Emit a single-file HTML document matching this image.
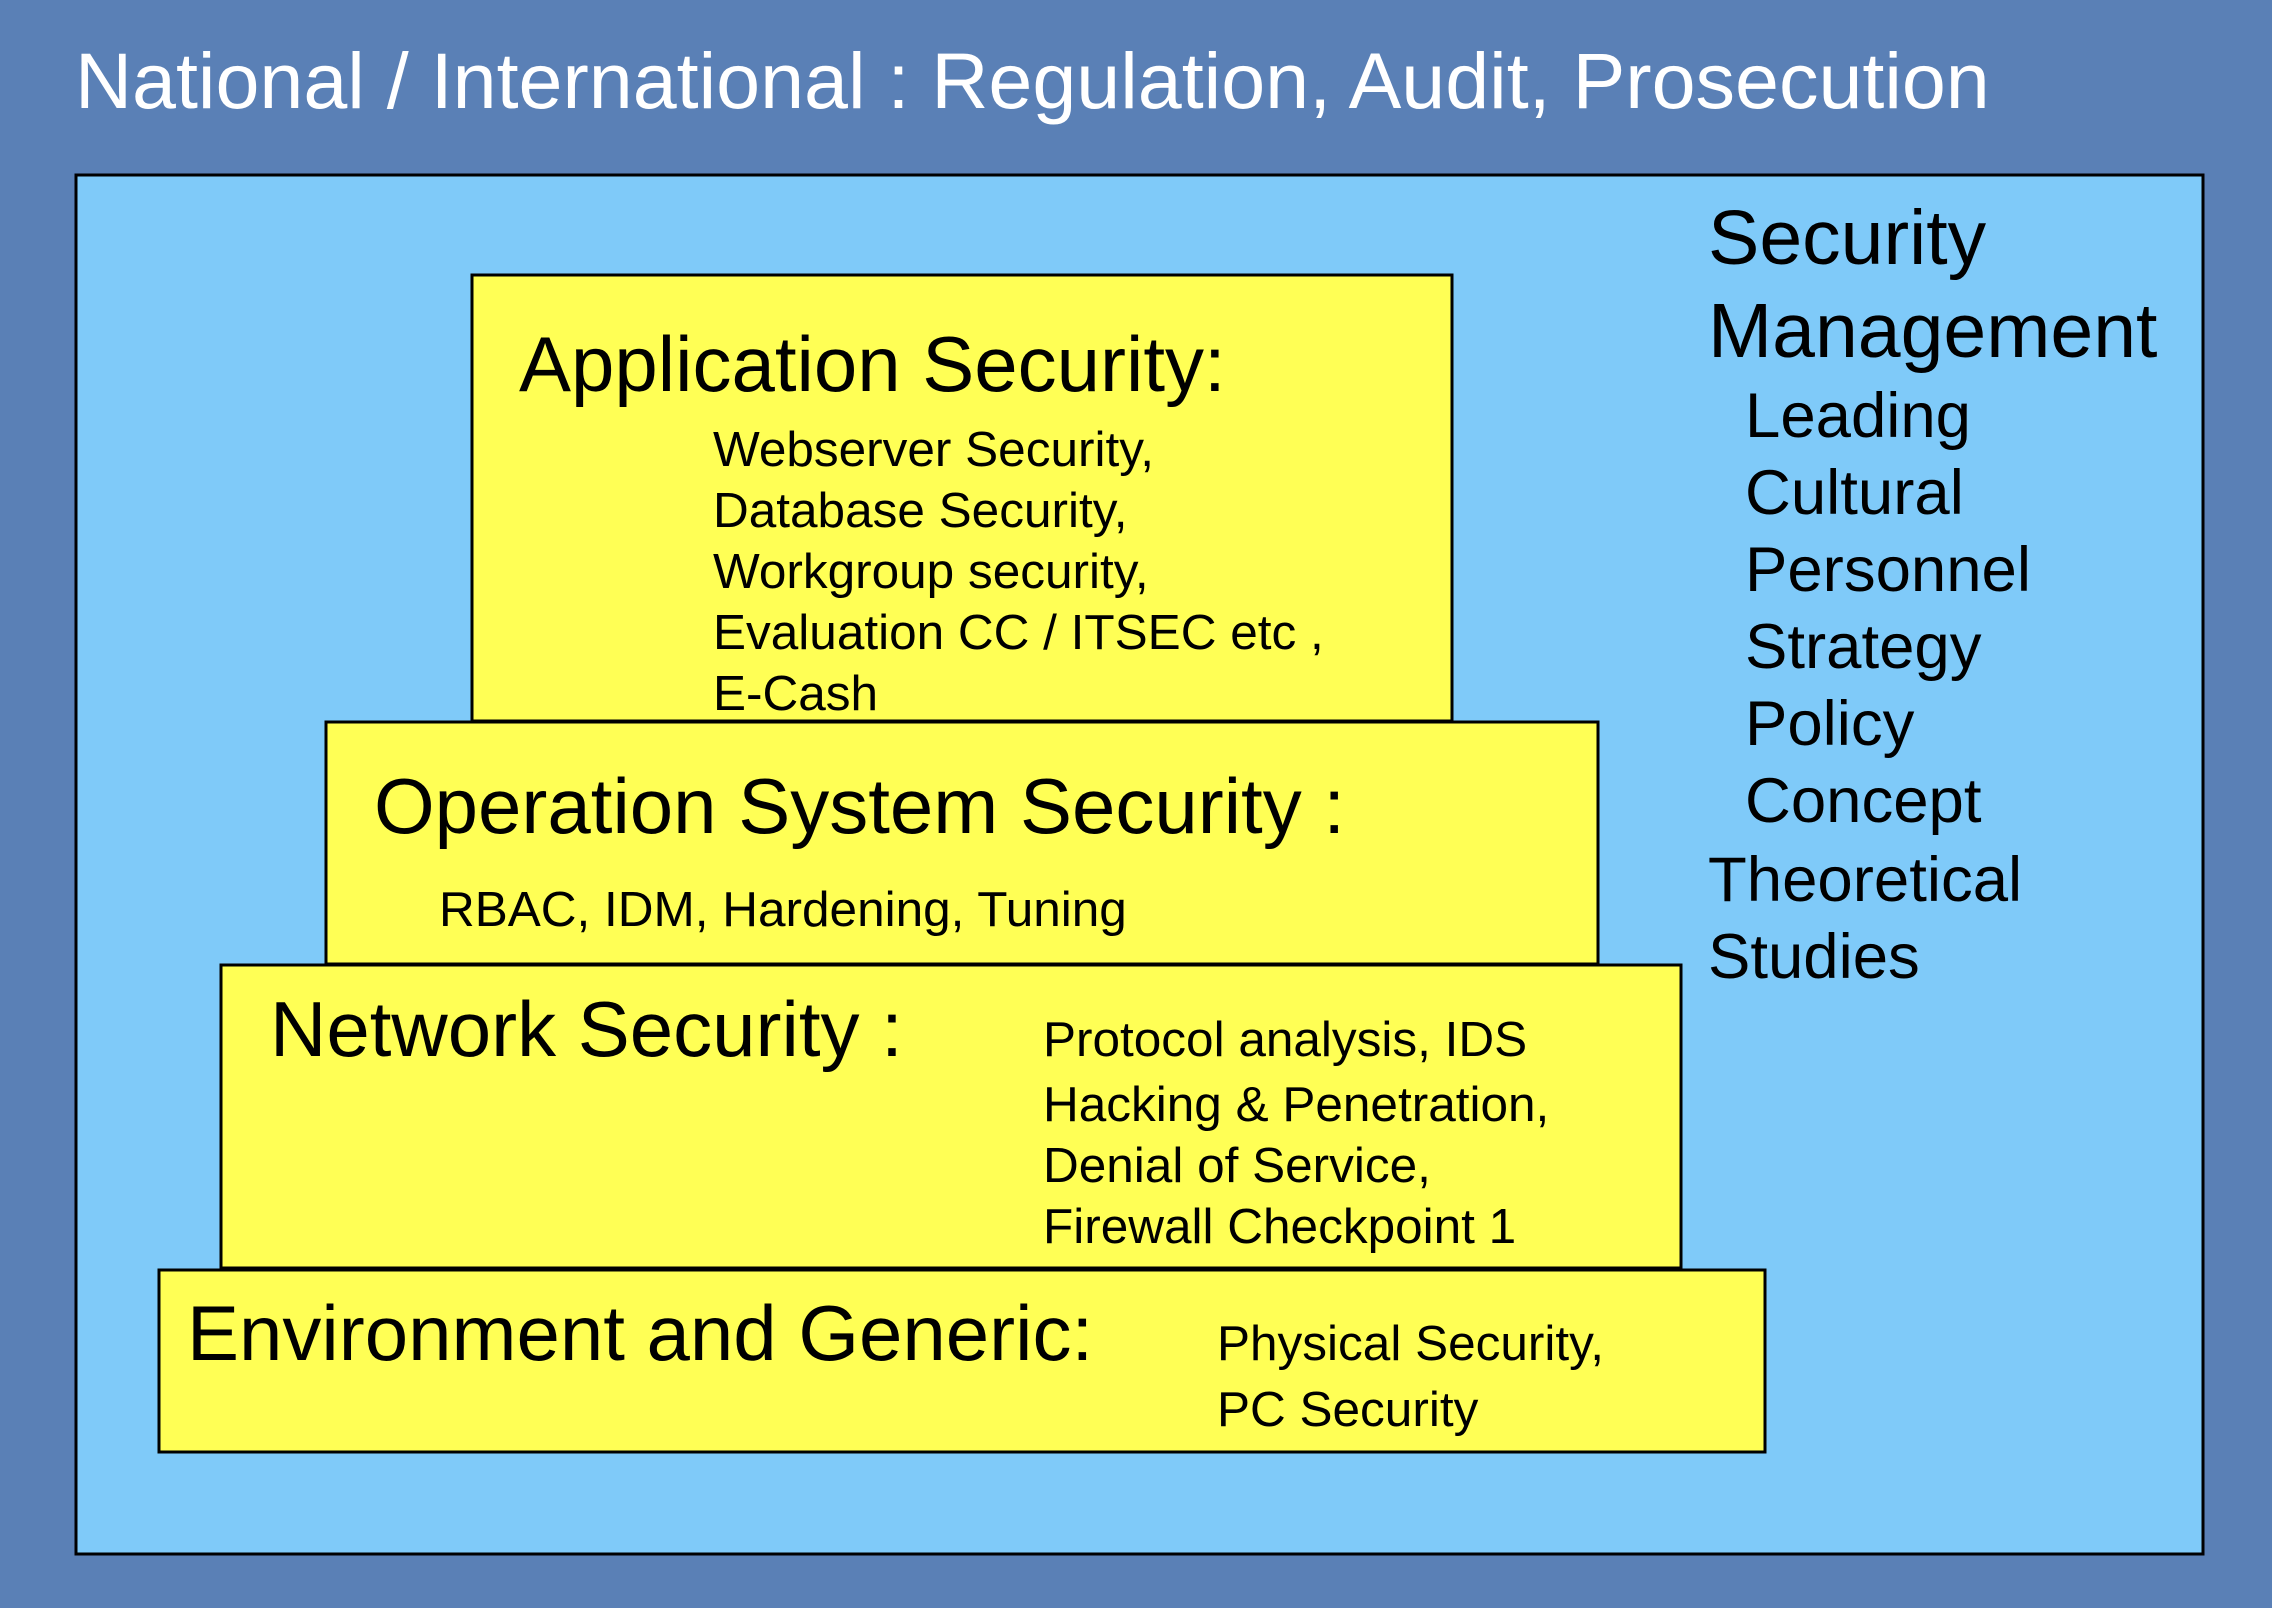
<!DOCTYPE html>
<html><head><meta charset="utf-8"><style>
html,body{margin:0;padding:0;background:#5a80b6;}
svg{display:block;font-family:"Liberation Sans",Arial,sans-serif;}
</style></head><body>
<svg width="2272" height="1608" viewBox="0 0 2272 1608">
<rect x="0" y="0" width="2272" height="1608" fill="#5a80b6"/>
<text x="75" y="108" font-size="79" fill="#ffffff">National / International : Regulation, Audit, Prosecution</text>
<rect x="76" y="175" width="2127" height="1379" fill="#7fcaf9" stroke="#000" stroke-width="3"/>

<rect x="472" y="275" width="980" height="446" fill="#ffff55" stroke="#000" stroke-width="3"/>
<rect x="326" y="722" width="1272" height="242" fill="#ffff55" stroke="#000" stroke-width="3"/>
<rect x="221" y="965" width="1460" height="303" fill="#ffff55" stroke="#000" stroke-width="3"/>
<rect x="159" y="1270" width="1606" height="182" fill="#ffff55" stroke="#000" stroke-width="3"/>

<g fill="#000">
<text x="519" y="391" font-size="78">Application Security:</text>
<g font-size="49.5">
<text x="713" y="466">Webserver Security,</text>
<text x="713" y="527">Database Security,</text>
<text x="713" y="588">Workgroup security,</text>
<text x="713" y="649">Evaluation CC / ITSEC etc ,</text>
<text x="713" y="710">E-Cash</text>
</g>
<text x="374" y="833" font-size="78">Operation System Security :</text>
<text x="439" y="926" font-size="49.5">RBAC, IDM, Hardening, Tuning</text>
<text x="270" y="1056" font-size="78">Network Security :</text>
<g font-size="49.5">
<text x="1043" y="1056">Protocol analysis, IDS</text>
<text x="1043" y="1121">Hacking &amp; Penetration,</text>
<text x="1043" y="1182">Denial of Service,</text>
<text x="1043" y="1243">Firewall Checkpoint 1</text>
</g>
<text x="187" y="1360" font-size="78">Environment and Generic:</text>
<g font-size="49.5">
<text x="1217" y="1360">Physical Security,</text>
<text x="1217" y="1426">PC Security</text>
</g>
<g>
<text x="1708" y="264" font-size="77">Security</text>
<text x="1708" y="357" font-size="77">Management</text>
<text x="1745" y="437" font-size="63.5">Leading</text>
<text x="1745" y="514" font-size="63.5">Cultural</text>
<text x="1745" y="591" font-size="63.5">Personnel</text>
<text x="1745" y="668" font-size="63.5">Strategy</text>
<text x="1745" y="745" font-size="63.5">Policy</text>
<text x="1745" y="822" font-size="63.5">Concept</text>
<text x="1708" y="901" font-size="63.5">Theoretical</text>
<text x="1708" y="978" font-size="63.5">Studies</text>
</g>
</g>
</svg>
</body></html>
